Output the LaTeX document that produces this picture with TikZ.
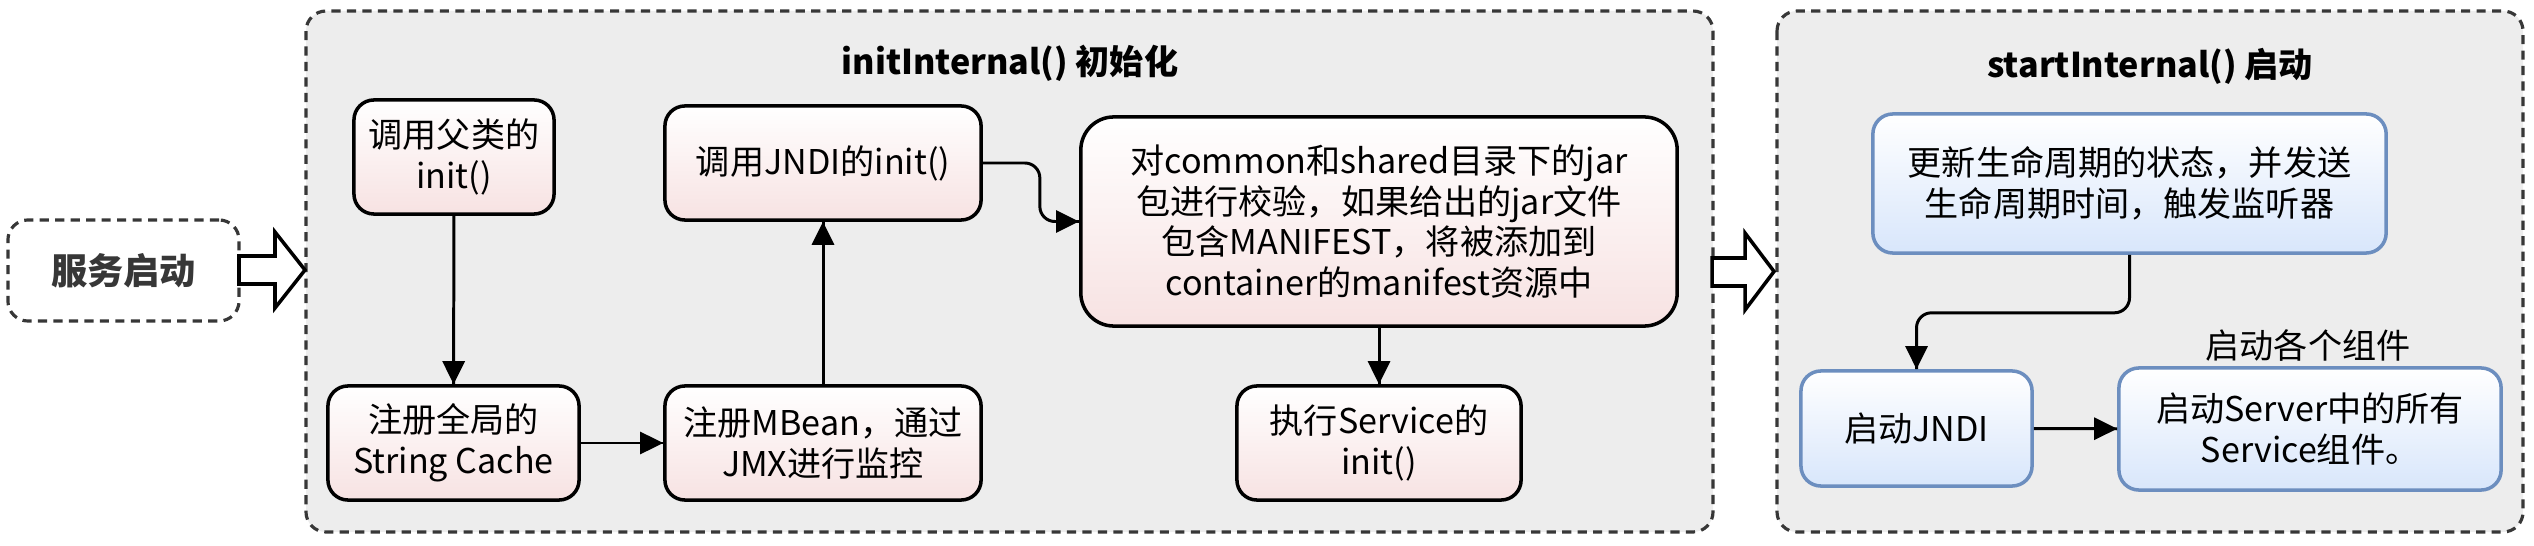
\documentclass[tikz,border=0pt]{standalone}
\usepackage{fontspec}
\setmainfont{Noto Sans CJK SC}
\usetikzlibrary{arrows.meta}
\usetikzlibrary{decorations.markings}
\tikzset{->/.style = {decoration={markings,
                                  mark=at position 1 with {\arrow{Triangle[length=2.3mm, width=2.2mm]}}},
                      postaction={decorate}}}
\definecolor{mpink}{RGB}{247,226,226}
\definecolor{mblue}{RGB}{216,230,251}
\definecolor{mline}{RGB}{108,142,191}
\definecolor{mgroup}{RGB}{237,237,237}
\definecolor{mdash}{RGB}{55,55,55}
\tikzset{initbox/.style = {draw, line width=1pt, rounded corners=2mm, top color=white,
                           bottom color=mpink, align=center, inner sep=0}}
\tikzset{startbox/.style = {draw=mline, line width=1pt, rounded corners=2mm, top color=white,
                            bottom color=mblue, align=center, inner sep=0}}
\tikzset{group/.style = {draw=mdash, fill=mgroup, line width=0.9pt,
                         dash pattern=on 2.6pt off 1.8pt, rounded corners=2mm}}
\tikzset{hollow/.style = {draw, fill=white, line width=1pt, line join=miter}}
\newcommand{\boxfont}{\fontsize{9.7pt}{11.6pt}\selectfont}

\begin{document}
\begin{tikzpicture}[x=0.01cm, y=-0.01cm, line width=0.85pt, font=\boxfont]
      \useasboundingbox (0,0) rectangle (2534,546);

      % the two phases
      \draw [group] (306,11) rectangle (1713,532);
      \draw [group] (1777,11) rectangle (2523,532);
      \node [font=\boxfont\bfseries] (initTitle) at (1010,63) {initInternal() 初始化};
      \node [font=\boxfont\bfseries] (startTitle) at (2150,66) {startInternal() 启动};

      \node [group, fill=white, minimum width=2.31cm, minimum height=1.01cm,
             font=\fontsize{10.3pt}{12pt}\selectfont\bfseries, text=mdash] (boot) at (123.5,270.5) {服务启动};
      \draw [hollow] (239,256) -- (275,256) -- (275,232) -- (305,270) -- (275,308) -- (275,284) -- (239,284) -- cycle;
      \draw [hollow] (1712,258) -- (1745,258) -- (1745,233) -- (1774,271.5) -- (1745,310) -- (1745,286) -- (1712,286) -- cycle;

      % initInternal()
      \node [initbox, minimum width=2cm, minimum height=1.14cm] (superInit) at (454,157) {调用父类的\\init()};
      \node [initbox, minimum width=2.51cm, minimum height=1.14cm] (strCache) at (453.5,443) {注册全局的\\String Cache};
      \node [initbox, minimum width=3.16cm, minimum height=1.14cm] (mbean) at (823,443) {注册MBean，通过\\JMX进行监控};
      \node [initbox, minimum width=3.16cm, minimum height=1.14cm] (jndiInit) at (823,163) {调用JNDI的init()};
      \node [initbox, rounded corners=3.3mm, minimum width=5.96cm, minimum height=2.09cm] (jarCheck) at (1379,221.5)
            {对common和shared目录下的jar\\包进行校验，如果给出的jar文件\\包含MANIFEST，将被添加到\\container的manifest资源中};
      \node [initbox, minimum width=2.84cm, minimum height=1.14cm] (serviceInit) at (1379,443) {执行Service的\\init()};

      \draw [->] (superInit) -- (strCache);
      \draw [->] (strCache) -- (mbean);
      \draw [->] (mbean) -- (jndiInit);
      \draw [->, rounded corners=1.5mm] (jndiInit.east) -- ++(57,0) |- (jarCheck.west);
      \draw [->] (jarCheck) -- (serviceInit);

      % startInternal()
      \node [startbox, minimum width=5.13cm, minimum height=1.39cm] (lifecycle) at (2129.5,183.5)
            {更新生命周期的状态，并发送\\生命周期时间，触发监听器};
      \node [startbox, minimum width=2.31cm, minimum height=1.15cm] (jndiStart) at (1916.5,428.5) {启动JNDI};
      \node [startbox, minimum width=3.82cm, minimum height=1.22cm] (services) at (2310,429)
            {启动Server中的所有\\Service组件。};
      \node (servicesLabel) at (2308,345) {启动各个组件};

      \draw [->, rounded corners=1.5mm] (lifecycle.south) -- ++(0,58) -| (jndiStart.north);
      \draw [->] (jndiStart) -- (services);
    \end{tikzpicture}
\end{document}
